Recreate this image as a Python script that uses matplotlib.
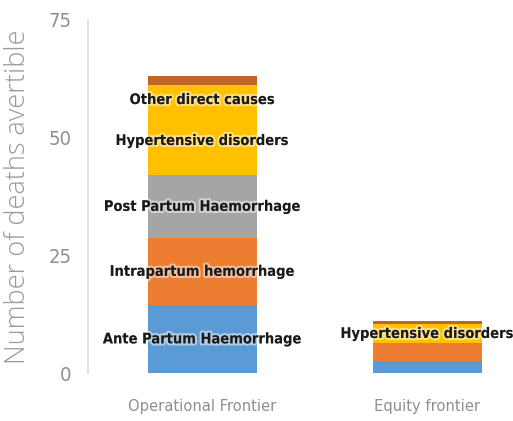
import matplotlib
matplotlib.use("Agg")
import matplotlib.pyplot as plt
import matplotlib.patheffects as pe
from matplotlib import font_manager as fm
import numpy as np

categories = ["Operational Frontier", "Equity frontier"]
series_names = ["Ante Partum Haemorrhage", "Intrapartum hemorrhage", "Post Partum Haemorrhage",
                "Hypertensive disorders", "Other direct causes"]
ante_partum = [14.5, 2.5]
intrapartum = [14.2, 3.8]
post_partum = [13.4, 0.0]
hypertensive = [19.0, 4.2]
other_direct = [2.0, 0.6]
series_values = [ante_partum, intrapartum, post_partum, hypertensive, other_direct]
colors = ["#5B9BD5", "#ED7D31", "#A5A5A5", "#FFC000", "#C0652A"]

# which labels are shown: (series index, category index, vertical offset in data units)
shown_labels = [(0, 0, 0.0), (1, 0, 0.0), (2, 0, 0.0), (3, 0, -2.2), (4, 0, -4.0), (3, 1, 0.0)]

yticks = [0, 25, 50, 75]

# find a narrow font if one exists
narrow_reg = None
narrow_bold = None
for f in fm.fontManager.ttflist:
    n = f.name
    st = str(f.stretch).lower()
    isnarrow = ("narrow" in n.lower() or "condensed" in n.lower() or "condensed" in st)
    if isnarrow and f.style == "normal":
        w = f.weight if isinstance(f.weight, int) else (700 if "bold" in str(f.weight) else 400)
        if w >= 600 and narrow_bold is None:
            narrow_bold = f.fname
        if w < 600 and narrow_reg is None:
            narrow_reg = f.fname

def fp(bold, size):
    path = narrow_bold if bold else narrow_reg
    if path:
        return fm.FontProperties(fname=path, size=size)
    return fm.FontProperties(family="Liberation Sans", weight="bold" if bold else "normal",
                             size=size * 0.93)

fig = plt.figure(figsize=(5.13, 4.21), dpi=100)
ax = fig.add_axes([0.1715, 0.114, 0.8125, 0.8385])

x = np.arange(len(categories))
width = 0.485
bottoms = np.zeros(len(categories))
segs = []
for vals, col in zip(series_values, colors):
    ax.bar(x, vals, width, bottom=bottoms, color=col, edgecolor="none")
    segs.append(bottoms.copy())
    bottoms = bottoms + np.array(vals)

for si, ci, off in shown_labels:
    yc = segs[si][ci] + series_values[si][ci] / 2 + off
    ax.text(x[ci], yc, series_names[si], ha="center", va="center",
            fontproperties=fp(True, 10.5), color="#1a1a1a",
            path_effects=[pe.withStroke(linewidth=3, foreground=(1, 1, 1, 0.5))])

ax.set_ylim(0, 75)
ax.set_xlim(-0.509, 1.344)
ax.set_yticks(yticks)
ax.set_yticklabels([str(t) for t in yticks], fontproperties=fp(False, 14.5), color="#8f8f8f")
ax.set_xticks(x)
ax.set_xticklabels(categories, fontproperties=fp(False, 11.8), color="#8f8f8f")
ax.tick_params(axis="both", length=0)
ax.tick_params(axis="y", pad=12)
ax.tick_params(axis="x", pad=19)
for s in ["top", "right", "bottom"]:
    ax.spines[s].set_visible(False)
ax.spines["left"].set_color("#dcdcdc")
ax.spines["left"].set_linewidth(1.2)
ax.set_ylabel("Number of deaths avertible", fontsize=19.5, color="#9a9a9a",
              family=["Open Sans", "DejaVu Sans"], fontweight="light", labelpad=6)
ax.yaxis.set_label_coords(-0.135, 0.5)

fig.savefig("out.png", dpi=100)
